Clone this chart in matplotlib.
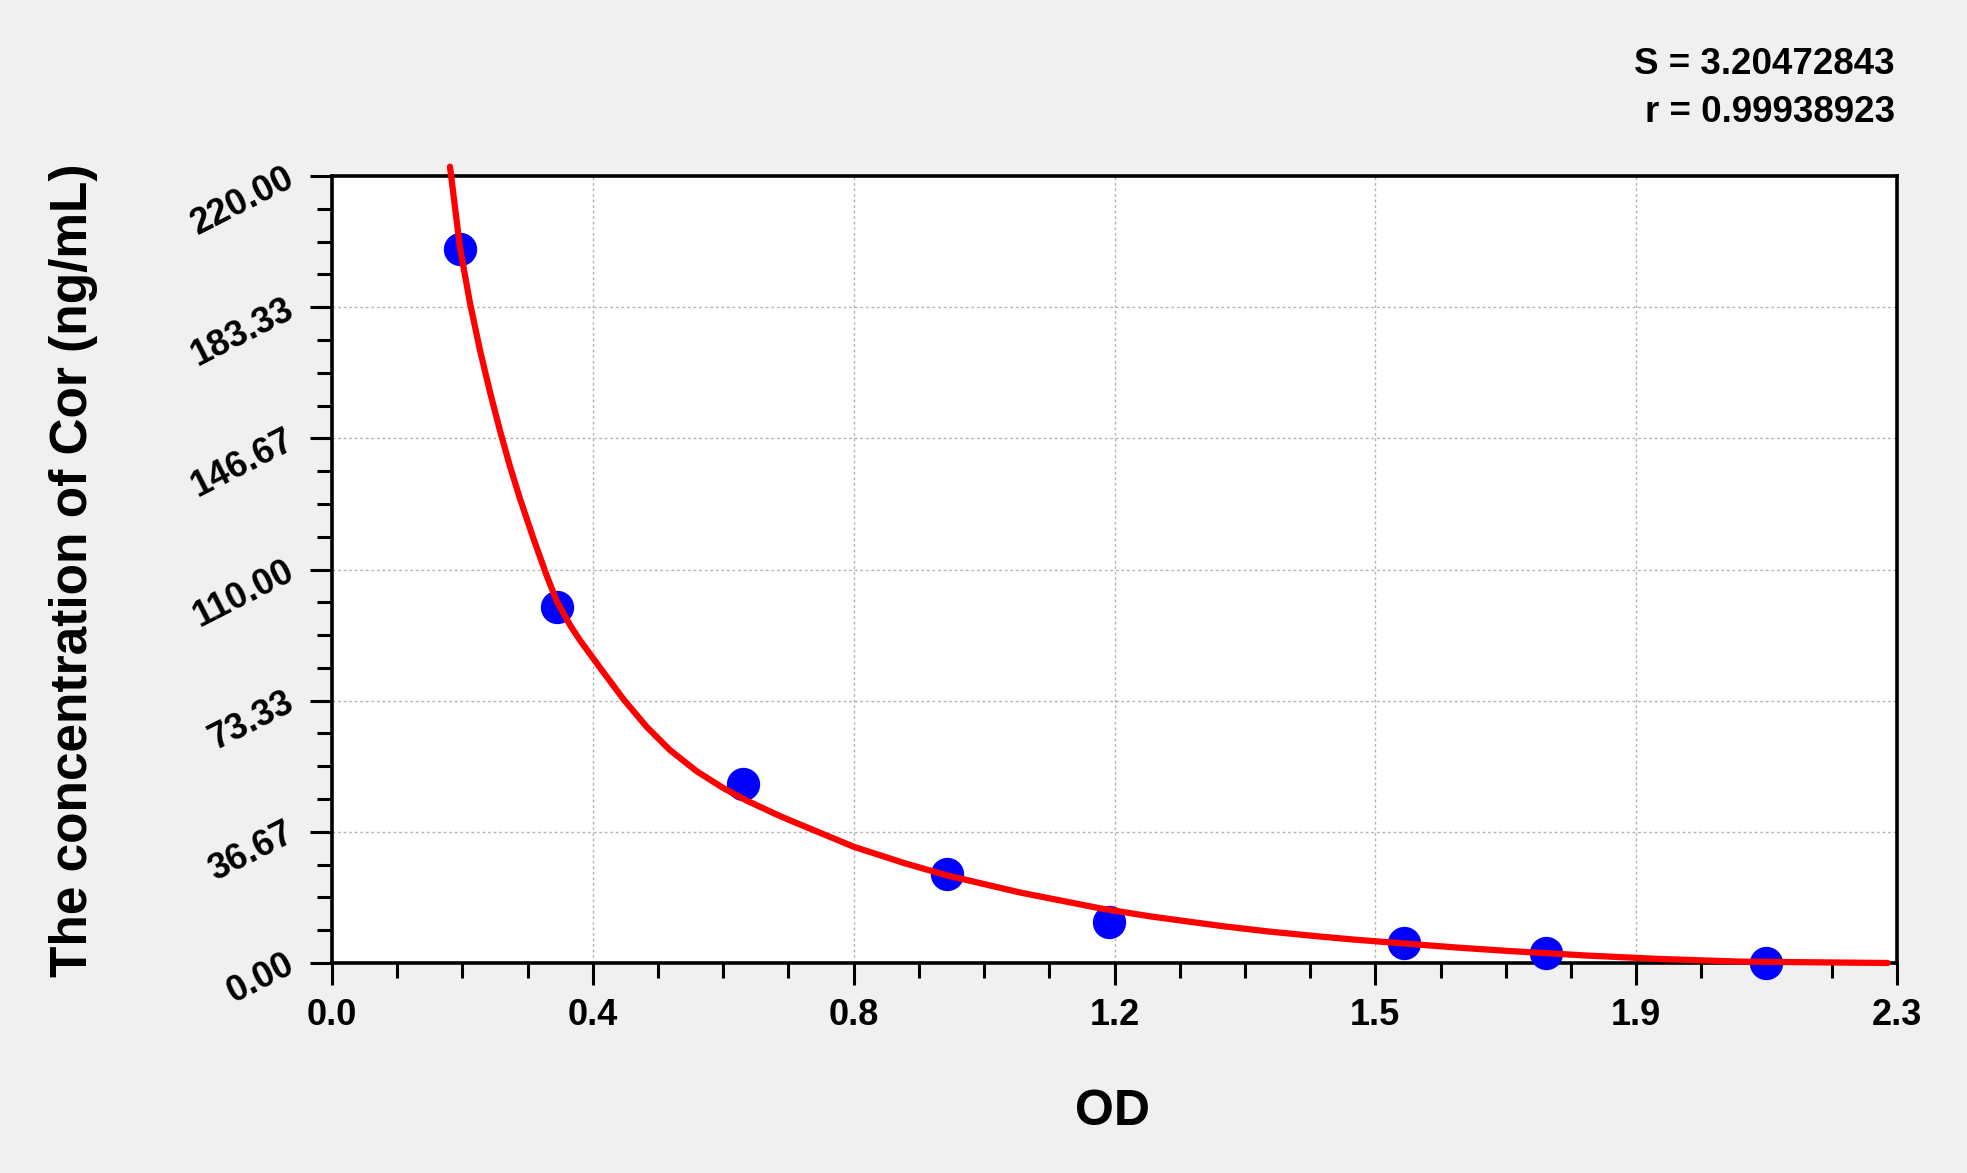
import matplotlib
matplotlib.use('Agg')
import matplotlib.pyplot as plt
from matplotlib.ticker import FixedLocator, MultipleLocator

# Standard points (OD vs concentration)
od_points = [0.188, 0.330, 0.604, 0.904, 1.142, 1.576, 1.784, 2.108]
conc_points = [199.5, 99.6, 50.0, 25.0, 11.6, 5.5, 2.8, 0.1]

# Fitted curve
curve_od = [0.1734, 0.1881, 0.2028, 0.2175, 0.2322, 0.2469, 0.2616, 0.2763,
            0.2954, 0.3155, 0.3302, 0.3500, 0.3645, 0.3937, 0.4281, 0.4625,
            0.4968, 0.5360, 0.5751, 0.6094, 0.6535, 0.6716, 0.7667, 0.8414,
            0.9037, 1.0113, 1.1284, 1.2036, 1.3086, 1.3768, 1.4520, 1.5046,
            1.5797, 1.6548, 1.7298, 1.8424, 1.9552, 2.0680, 2.2863]
curve_conc = [222.6, 200.0, 184.5, 171.3, 159.6, 148.8, 138.8, 129.8,
              119.0, 108.3, 101.2, 94.4, 90.2, 82.6, 73.8, 66.0,
              59.5, 53.6, 48.9, 45.4, 41.5, 40.0, 32.5, 27.9,
              24.5, 19.7, 15.3, 13.0, 10.3, 8.8, 7.4, 6.5,
              5.4, 4.3, 3.35, 2.1, 1.1, 0.4, 0.0]

x_tick_values = [0.0, 0.38333, 0.76667, 1.15, 1.53333, 1.91667, 2.3]
x_tick_labels = ['0.0', '0.4', '0.8', '1.2', '1.5', '1.9', '2.3']
y_tick_labels = ['0.00', '36.67', '73.33', '110.00', '146.67', '183.33', '220.00']
y_tick_values = [float(s) for s in y_tick_labels]

stats_lines = ['S = 3.20472843', 'r = 0.99938923']
x_label = 'OD'
y_label = 'The concentration of Cor (ng/mL)'

plt.rcParams['font.family'] = ['Liberation Sans', 'DejaVu Sans']

W, H = 1967, 1173
fig = plt.figure(figsize=(W / 100, H / 100), dpi=100, facecolor='#f0f0f0')
ax = fig.add_axes([332 / W, 1 - 963 / H, (1897 - 332) / W, (963 - 176) / H])
ax.set_facecolor('white')

ax.set_xlim(0, 2.3)
ax.set_ylim(0, 220)

ax.xaxis.set_major_locator(FixedLocator(x_tick_values))
ax.yaxis.set_major_locator(FixedLocator(y_tick_values))
ax.xaxis.set_minor_locator(MultipleLocator(2.3 / 24))
ax.yaxis.set_minor_locator(MultipleLocator(220 / 24))
ax.set_xticklabels(x_tick_labels, fontsize=26, fontweight='bold')
ax.set_yticklabels(y_tick_labels, fontsize=26, fontweight='bold', rotation=27,
                   ha='right', va='center', rotation_mode='anchor')

ax.tick_params(axis='both', which='major', direction='out', length=16, width=2.2,
               color='black')
ax.tick_params(axis='both', which='minor', direction='out', length=11, width=2.2,
               color='black')
ax.tick_params(axis='x', which='major', pad=9)
ax.tick_params(axis='y', which='major', pad=13)

for sp in ax.spines.values():
    sp.set_linewidth(2.6)
    sp.set_color('black')

ax.grid(True, which='major', color='#b4b4b4', linestyle=(0, (2, 2)), linewidth=1.0)
ax.set_axisbelow(True)

ax.plot(od_points, conc_points, linestyle='none', marker='o', markersize=24,
        color='#0000ff', markeredgewidth=0, zorder=3, clip_on=False)
ax.plot(curve_od, curve_conc, color='#ff0000', linewidth=4.5, zorder=4,
        clip_on=False, solid_capstyle='round', solid_joinstyle='round')

fig.text(1895 / W, 1 - 65 / H, stats_lines[0], ha='right', va='center',
         fontsize=26.5, fontweight='bold')
fig.text(1895 / W, 1 - 113 / H, stats_lines[1], ha='right', va='center',
         fontsize=26.5, fontweight='bold')

fig.text(1112 / W, 1 - 1112 / H, x_label, ha='center', va='center',
         fontsize=36, fontweight='bold')
fig.text(73.5 / W, 1 - 570 / H, y_label, ha='center', va='center', rotation=90,
         fontsize=37, fontweight='bold')

fig.savefig('out.png', dpi=100, facecolor=fig.get_facecolor())
